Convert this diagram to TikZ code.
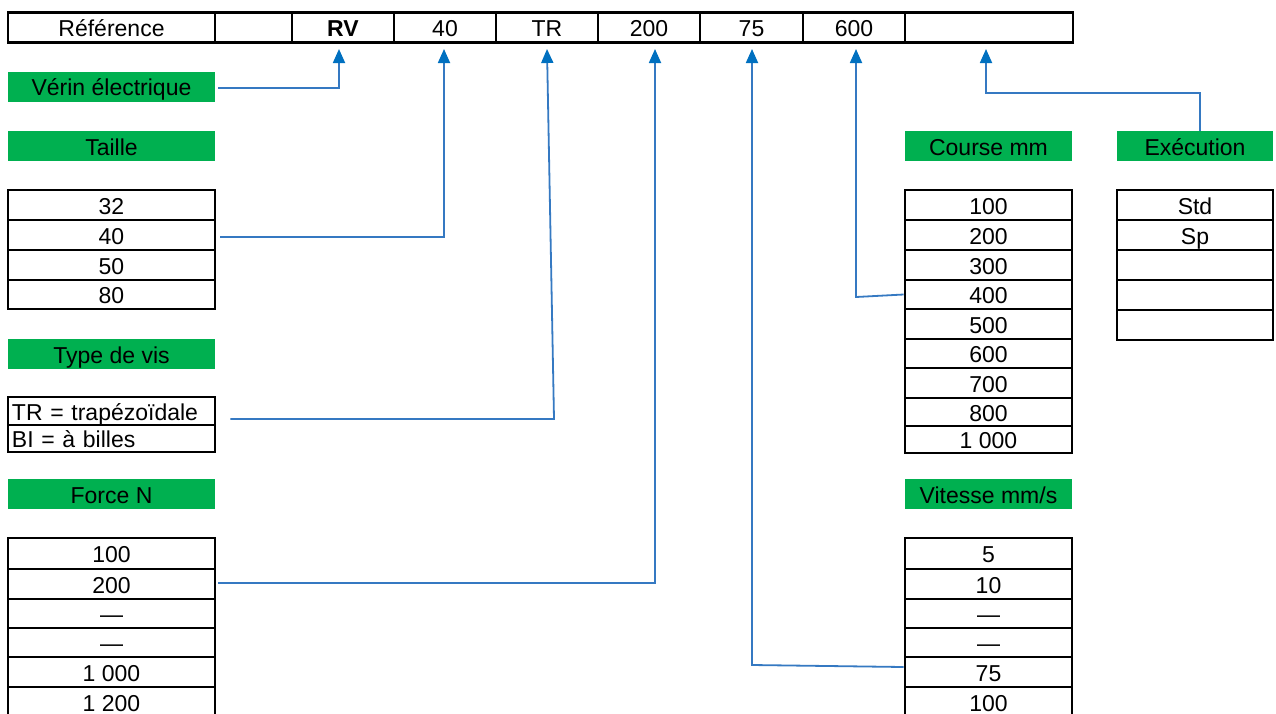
\documentclass[tikz,border=0pt]{standalone}
\usepackage{fontspec}
\setmainfont{Liberation Sans}
\usetikzlibrary{arrows.meta}
\definecolor{xlgreen}{HTML}{00B050}
\definecolor{connblue}{HTML}{3579C2}
\definecolor{tipblue}{HTML}{0070C0}
\begin{document}
\begin{tikzpicture}[x=1pt,y=-1pt,
  every node/.style={font=\fontsize{23}{27}\selectfont, inner sep=0pt, text height=18pt, text depth=0pt},
  cell/.style={draw=black, line width=2.8pt},
  hdr/.style={fill=xlgreen},
  conn/.style={draw=connblue, line width=1.8pt},
  arr/.style={conn, -{Triangle[length=14pt,width=12pt,color=tipblue]}}]
\useasboundingbox (0,0) rectangle (1276,713);
\clip (0,0) rectangle (1276,713);

% top reference row
\node[cell, minimum width=207, minimum height=30.4] (r0) at (111.5,27.5) {Référence};
\node[cell, minimum width=77, minimum height=30.4] (r1) at (253.5,27.5) {};
\node[cell, minimum width=102, minimum height=30.4] (rRV) at (343,27.5) {\textbf{RV}};
\node[cell, minimum width=102, minimum height=30.4] (r40) at (445,27.5) {40};
\node[cell, minimum width=102, minimum height=30.4] (rTR) at (547,27.5) {TR};
\node[cell, minimum width=102, minimum height=30.4] (r200) at (649,27.5) {200};
\node[cell, minimum width=103, minimum height=30.4] (r75) at (751.5,27.5) {75};
\node[cell, minimum width=102, minimum height=30.4] (r600) at (854,27.5) {600};
\node[cell, minimum width=168, minimum height=30.4] (rX) at (989,27.5) {};

% green headers
\node[hdr, minimum width=207, minimum height=30] (verin) at (111.5,86.7) {Vérin électrique};
\node[hdr, minimum width=207, minimum height=30] (taille) at (111.5,146) {Taille};
\node[hdr, minimum width=207, minimum height=30] (typevis) at (111.5,354) {Type de vis};
\node[hdr, minimum width=207, minimum height=30] (force) at (111.5,494) {Force N};
\node[hdr, minimum width=167, minimum height=30] (course) at (988.5,146) {Course mm};
\node[hdr, minimum width=156, minimum height=30] (exec) at (1195,146) {Exécution};
\node[hdr, minimum width=167, minimum height=30] (vitesse) at (988.5,494) {Vitesse mm/s};

% Taille table
\node[cell, minimum width=207, minimum height=30] (t32) at (111.5,205) {32};
\node[cell, minimum width=207, minimum height=30] (t40) at (111.5,235) {40};
\node[cell, minimum width=207, minimum height=30] (t50) at (111.5,265) {50};
\node[cell, minimum width=207, minimum height=29] (t80) at (111.5,294.5) {80};

% Type de vis table
\node[cell, minimum width=207, minimum height=28, text width=199pt, align=left] (tTR) at (111.5,411) {TR = trapézoïdale};
\node[cell, minimum width=207, minimum height=27, text width=199pt, align=left] (tBI) at (111.5,438.5) {BI = à billes};

% Force table
\node[cell, minimum width=207, minimum height=31] (f100) at (111.5,553.5) {100};
\node[cell, minimum width=207, minimum height=30] (f200) at (111.5,584) {200};
\node[cell, minimum width=207, minimum height=29] (fd1) at (111.5,613.5) {—};
\node[cell, minimum width=207, minimum height=29] (fd2) at (111.5,642.5) {—};
\node[cell, minimum width=207, minimum height=30] (f1000) at (111.5,672) {1 000};
\node[cell, minimum width=207, minimum height=30] (f1200) at (111.5,702) {1 200};

% Course table
\node[cell, minimum width=167, minimum height=30] (c100) at (988.5,205) {100};
\node[cell, minimum width=167, minimum height=30] (c200) at (988.5,235) {200};
\node[cell, minimum width=167, minimum height=30] (c300) at (988.5,265) {300};
\node[cell, minimum width=167, minimum height=29] (c400) at (988.5,294.5) {400};
\node[cell, minimum width=167, minimum height=30] (c500) at (988.5,324) {500};
\node[cell, minimum width=167, minimum height=29] (c600) at (988.5,353.5) {600};
\node[cell, minimum width=167, minimum height=30] (c700) at (988.5,383) {700};
\node[cell, minimum width=167, minimum height=28] (c800) at (988.5,412) {800};
\node[cell, minimum width=167, minimum height=27] (c1000) at (988.5,439.5) {1 000};

% Execution table
\node[cell, minimum width=156, minimum height=30] (eStd) at (1195,205) {Std};
\node[cell, minimum width=156, minimum height=30] (eSp) at (1195,235) {Sp};
\node[cell, minimum width=156, minimum height=30] (e3) at (1195,265) {};
\node[cell, minimum width=156, minimum height=30] (e4) at (1195,295) {};
\node[cell, minimum width=156, minimum height=30] (e5) at (1195,325) {};

% Vitesse table
\node[cell, minimum width=167, minimum height=31] (v5) at (988.5,553.5) {5};
\node[cell, minimum width=167, minimum height=30] (v10) at (988.5,584) {10};
\node[cell, minimum width=167, minimum height=29] (vd1) at (988.5,613.5) {—};
\node[cell, minimum width=167, minimum height=29] (vd2) at (988.5,642.5) {—};
\node[cell, minimum width=167, minimum height=30] (v75) at (988.5,672) {75};
\node[cell, minimum width=167, minimum height=30] (v100) at (988.5,702) {100};

% arrow tips and bends
\coordinate (aRV) at (339,49);
\coordinate (a40) at (444,49);
\coordinate (aTR) at (547,49);
\coordinate (a200) at (655,49);
\coordinate (a75) at (752,49);
\coordinate (a600) at (856,49);
\coordinate (aEx) at (986,49);
\coordinate (kTR) at (554,419);
\coordinate (k600) at (856,297);
\coordinate (k75) at (752,665);
\coordinate (kEx) at (1200,93);

% connectors
\draw[arr] ([xshift=3pt,yshift=-1.3pt]verin.east) -| (aRV);
\draw[arr] ([xshift=4pt,yshift=-2pt]t40.east) -| (a40);
\draw[arr] ([xshift=14pt,yshift=-8pt]tTR.east) -- (kTR) -- (aTR);
\draw[arr] ([xshift=2pt,yshift=1pt]f200.east) -| (a200);
\draw[arr] (c400.west) -- (k600) -- (a600);
\draw[arr] ([yshift=5pt]v75.west) -- (k75) -- (a75);
\draw[arr] (exec.north -| kEx) -- (kEx) -| (aEx);
\end{tikzpicture}
\end{document}
